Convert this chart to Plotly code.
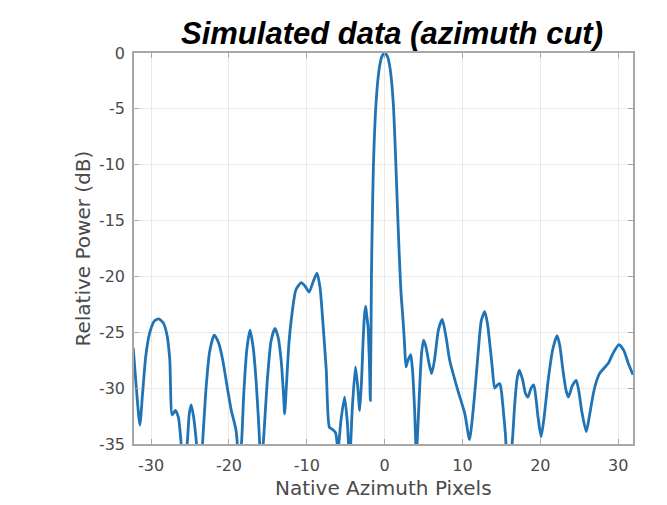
import plotly.graph_objects as go

# Azimuth cut samples (pixels, dB)
pixels = [
    -32.3, -31.9, -31.45, -31.1, -30.7, -30.2, -29.6, -29.0, -28.4, -27.95,
    -27.6, -27.3, -26.9, -26.5, -26.2, -25.9, -25.4, -25.1, -24.85, -24.5,
    -24.1, -23.8, -23.4, -23.0, -22.5, -21.9, -21.3, -20.8, -20.2, -19.7,
    -19.1, -18.7, -18.4, -18.1, -17.7, -17.3, -16.9, -16.5, -16.2, -15.85,
    -15.5, -15.1, -14.6, -14.1, -13.7, -13.3, -13.0, -12.85, -12.6, -12.3,
    -12.0, -11.4, -10.7, -10.2, -9.7, -9.2, -8.7, -8.3, -8.0, -7.5,
    -7.1, -6.7, -6.3, -6.0, -5.6, -5.15, -4.8, -4.5, -4.15, -3.75,
    -3.45, -3.2, -2.95, -2.8, -2.6, -2.44, -2.3, -2.14, -1.95, -1.84,
    -1.7, -1.6, -1.45, -1.1, -0.7, -0.35, 0.0, 0.35, 0.7, 1.1,
    1.45, 1.7, 1.9, 2.1, 2.36, 2.55, 2.74, 2.95, 3.34, 3.5,
    3.64, 3.85, 4.07, 4.3, 4.5, 4.75, 5.0, 5.3, 5.7, 6.04,
    6.4, 6.9, 7.4, 7.9, 8.35, 9.4, 10.3, 10.9, 11.5, 12.0,
    12.4, 12.85, 13.2, 13.5, 13.8, 14.14, 14.5, 14.8, 15.0, 15.2,
    15.5, 15.8, 16.3, 16.7, 17.0, 17.3, 17.7, 18.1, 18.4, 18.8,
    19.15, 19.45, 19.7, 20.1, 20.5, 21.0, 21.6, 22.15, 22.5, 22.9,
    23.3, 23.6, 24.1, 24.6, 24.95, 25.3, 25.9, 26.3, 26.8, 27.2,
    27.6, 28.2, 28.7, 29.4, 30.1, 30.7, 31.3, 31.9,
]
power_db = [
    -26.4, -30.0, -33.3, -30.5, -27.2, -25.1, -24.0, -23.8, -24.2, -25.3,
    -27.5, -32.4, -32.0, -32.6, -34.5, -37.0, -35.2, -32.3, -31.5, -32.8,
    -35.5, -38.0, -35.0, -30.5, -26.8, -25.25, -26.0, -27.5, -30.0, -32.0,
    -33.75, -36.5, -35.0, -30.5, -26.5, -24.8, -26.3, -29.5, -33.0, -37.0,
    -34.0, -29.5, -25.8, -24.65, -25.4, -27.5, -30.5, -32.3, -29.5, -26.0,
    -23.9, -21.2, -20.55, -20.9, -21.4, -20.5, -19.7, -21.0, -23.5, -28.4,
    -33.5, -33.7, -34.0, -35.5, -32.8, -30.8, -33.0, -36.5, -31.7, -28.1,
    -30.0, -32.0, -29.0, -26.3, -23.5, -22.65, -23.5, -24.5, -28.0, -31.1,
    -20.0, -15.5, -10.2, -4.4, -1.4, -0.3, 0.0, -0.3, -1.4, -4.4,
    -10.2, -15.0, -18.5, -21.5, -23.9, -26.0, -28.1, -27.6, -27.0, -27.8,
    -29.0, -32.0, -36.0, -33.0, -29.9, -26.8, -25.7, -26.3, -27.8, -28.7,
    -27.5, -24.8, -23.85, -25.5, -27.5, -30.2, -32.3, -34.6, -31.0, -26.9,
    -24.0, -23.15, -24.2, -26.0, -28.0, -30.0, -29.7, -29.6, -30.3, -31.7,
    -34.0, -37.0, -35.5, -31.5, -29.2, -28.4, -29.2, -30.5, -30.8, -30.0,
    -29.7, -31.0, -32.6, -34.35, -32.5, -29.3, -26.5, -25.3, -26.2, -28.4,
    -30.2, -30.8, -29.8, -29.3, -30.3, -32.0, -33.9, -32.5, -30.5, -29.4,
    -28.7, -28.2, -27.8, -26.8, -26.1, -26.6, -27.8, -28.8,
]

x_tick_vals = [-30, -20, -10, 0, 10, 20, 30]
x_tick_text = ["-30", "-20", "-10", "0", "10", "20", "30"]
y_tick_vals = [0, -5, -10, -15, -20, -25, -30, -35]
y_tick_text = ["0", "-5", "-10", "-15", "-20", "-25", "-30", "-35"]

title_text = "Simulated data (azimuth cut)"
x_label = "Native Azimuth Pixels"
y_label = "Relative Power (dB)"

W, H = 667, 505
L, R, T, B = 134, 34, 53, 61

fig = go.Figure()
fig.add_trace(go.Scatter(
    x=pixels, y=power_db, mode="lines",
    line=dict(color="#2074b6", width=2.8, shape="spline", smoothing=0.6),
    hoverinfo="skip", showlegend=False,
))

axis_common = dict(
    showline=True, linecolor="#a8a8a8", linewidth=1.5, mirror="ticks",
    ticks="inside", ticklen=5, tickcolor="#a8a8a8", tickwidth=1,
    showgrid=True, gridcolor="#e9e9e9", gridwidth=1, zeroline=False,
    tickfont=dict(family="DejaVu Sans", size=16, color="#4a4a4a"),
)

fig.update_layout(
    width=W, height=H,
    margin=dict(l=L, r=R, t=T, b=B, pad=0),
    paper_bgcolor="white", plot_bgcolor="white",
    xaxis=dict(range=[-32.2, 31.9], tickvals=x_tick_vals, ticktext=x_tick_text,
               ticklabelstandoff=6, **axis_common),
    yaxis=dict(range=[-35, 0], tickvals=y_tick_vals, ticktext=y_tick_text,
               ticklabelstandoff=4, **axis_common),
    annotations=[
        dict(text="<b><i>" + title_text + "</i></b>", xref="paper", yref="paper",
             x=(392 - L) / (W - L - R), y=1 + (T - 33) / (H - T - B),
             xanchor="center", yanchor="middle", showarrow=False,
             font=dict(family="Liberation Sans", size=31, color="black")),
        dict(text=x_label, xref="paper", yref="paper",
             x=0.5, y=-(488 - (H - B)) / (H - T - B),
             xanchor="center", yanchor="middle", showarrow=False,
             font=dict(family="DejaVu Sans", size=20, color="#4a4a4a")),
        dict(text=y_label, xref="paper", yref="paper", textangle=-90,
             x=-(L - 82) / (W - L - R), y=0.5,
             xanchor="center", yanchor="middle", showarrow=False,
             font=dict(family="DejaVu Sans", size=20, color="#4a4a4a")),
    ],
)

fig.write_html("out.html")
